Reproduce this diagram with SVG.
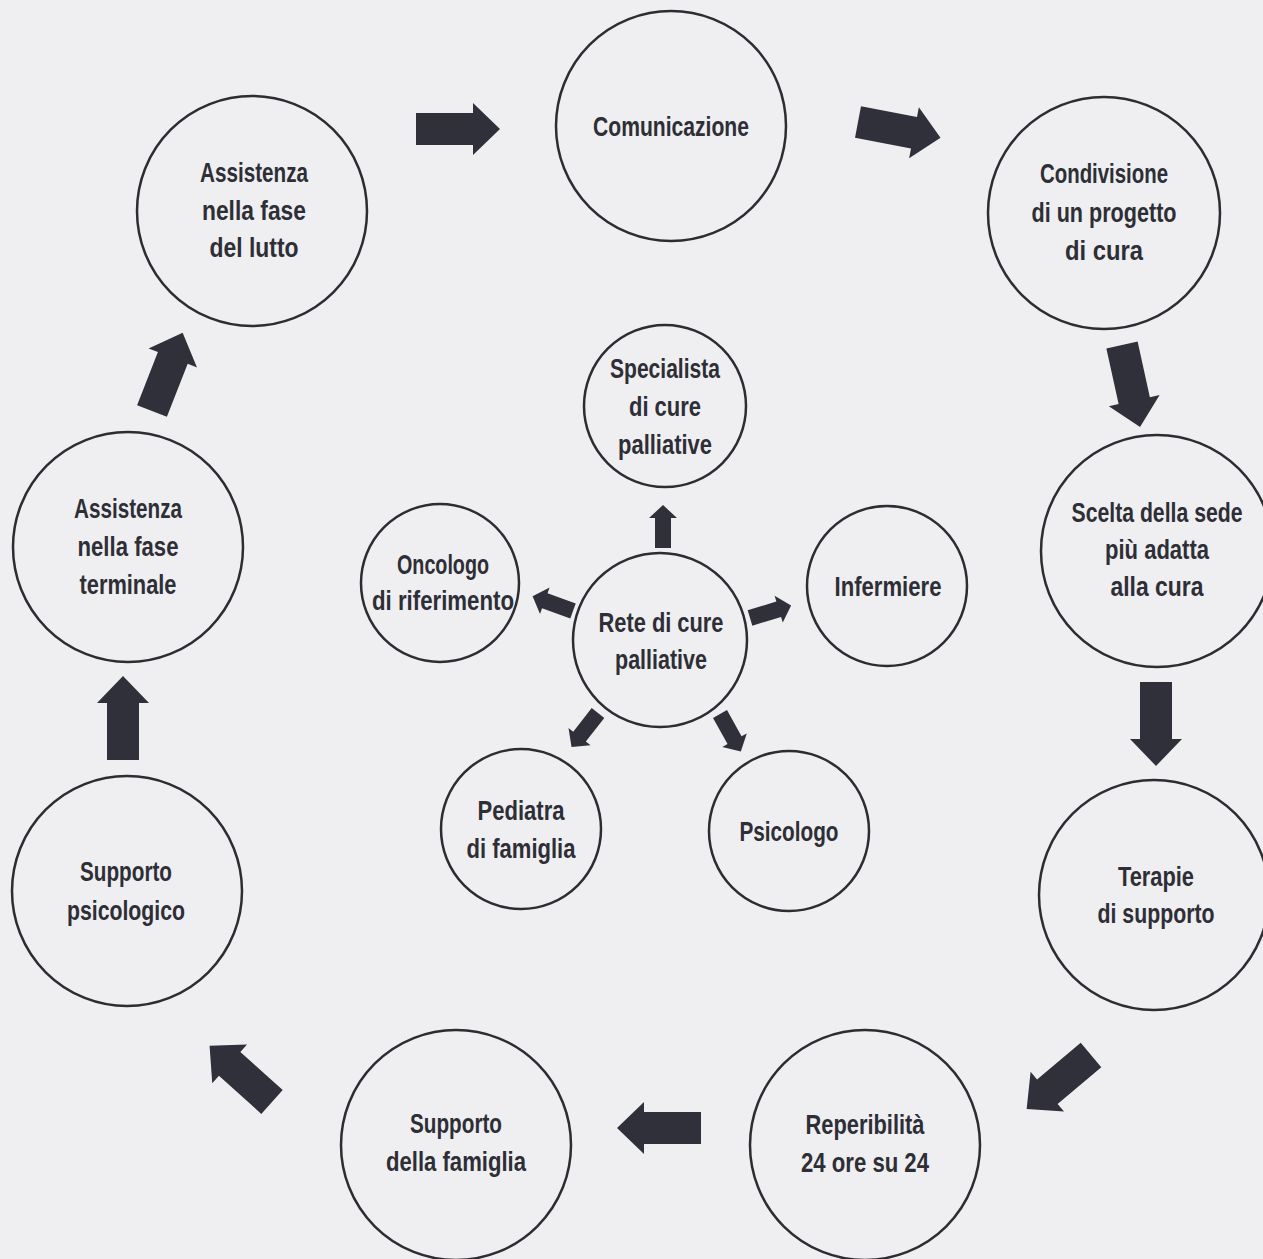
<svg xmlns="http://www.w3.org/2000/svg" xmlns:xlink="http://www.w3.org/1999/xlink" width="1263" height="1259" viewBox="0 0 1263 1259">
<style>
.bg{fill:#efeff1}
.node circle{fill:none;stroke:#2c2c32;stroke-width:2.5}
.node text{font-family:"Liberation Sans",Arial,sans-serif;font-weight:bold;font-size:28px;fill:#2e2e36;text-anchor:middle}
.arrow{fill:#30303b}
</style>
<defs>
<path id="big" d="M0,-16 L57,-16 L57,-26 L84,0 L57,26 L57,16 L0,16 Z"/>
<path id="small" d="M0,-8 L30,-8 L30,-14 L43,0 L30,14 L30,8 L0,8 Z"/>
</defs>
<rect class="bg" x="0" y="0" width="1263" height="1259"/>

<g id="connectors">
<use class="arrow" xlink:href="#big" transform="translate(416,129) rotate(0)"/>
<use class="arrow" xlink:href="#big" transform="translate(858,122) rotate(10.8)"/>
<use class="arrow" xlink:href="#big" transform="translate(1122,345) rotate(77.6)"/>
<use class="arrow" xlink:href="#big" transform="translate(1156,682) rotate(90)"/>
<use class="arrow" xlink:href="#big" transform="translate(1091,1055) rotate(140)"/>
<use class="arrow" xlink:href="#big" transform="translate(701,1128) rotate(180)"/>
<use class="arrow" xlink:href="#big" transform="translate(272,1102) rotate(222)"/>
<use class="arrow" xlink:href="#big" transform="translate(123,760) rotate(-90)"/>
<use class="arrow" xlink:href="#big" transform="translate(152,411) rotate(-68.6)"/>
<use class="arrow" xlink:href="#small" transform="translate(663,548) rotate(-90)"/>
<use class="arrow" xlink:href="#small" transform="translate(573,611) rotate(-160)"/>
<use class="arrow" xlink:href="#small" transform="translate(750,618) rotate(-17)"/>
<use class="arrow" xlink:href="#small" transform="translate(598,713) rotate(128)"/>
<use class="arrow" xlink:href="#small" transform="translate(720,714) rotate(61)"/>
</g>

<g id="comunicazione" class="node"><circle cx="671" cy="126" r="115"/><text x="671" y="136" textLength="156" lengthAdjust="spacingAndGlyphs">Comunicazione</text></g>
<g id="condivisione" class="node"><circle cx="1104" cy="213" r="116"/><text x="1104" y="183" textLength="128" lengthAdjust="spacingAndGlyphs">Condivisione</text><text x="1104" y="222" textLength="145" lengthAdjust="spacingAndGlyphs">di un progetto</text><text x="1104" y="260" textLength="78" lengthAdjust="spacingAndGlyphs">di cura</text></g>
<g id="scelta" class="node"><circle cx="1157" cy="551" r="116"/><text transform="translate(1157,522) scale(0.758,1)" x="0" y="0">Scelta della sede</text><text x="1157" y="559" textLength="104" lengthAdjust="spacingAndGlyphs">più adatta</text><text x="1157" y="596" textLength="93" lengthAdjust="spacingAndGlyphs">alla cura</text></g>
<g id="terapie" class="node"><circle cx="1154" cy="895" r="115"/><text x="1156" y="886" textLength="76" lengthAdjust="spacingAndGlyphs">Terapie</text><text x="1156" y="923" textLength="117" lengthAdjust="spacingAndGlyphs">di supporto</text></g>
<g id="reperibilita" class="node"><circle cx="865" cy="1145" r="115"/><text x="865" y="1134" textLength="119" lengthAdjust="spacingAndGlyphs">Reperibilità</text><text x="865" y="1172" textLength="128" lengthAdjust="spacingAndGlyphs">24 ore su 24</text></g>
<g id="supporto-famiglia" class="node"><circle cx="456" cy="1145" r="115"/><text x="456" y="1133" textLength="92" lengthAdjust="spacingAndGlyphs">Supporto</text><text x="456" y="1171" textLength="140" lengthAdjust="spacingAndGlyphs">della famiglia</text></g>
<g id="supporto-psicologico" class="node"><circle cx="127" cy="891" r="115"/><text x="126" y="881" textLength="92" lengthAdjust="spacingAndGlyphs">Supporto</text><text x="126" y="920" textLength="118" lengthAdjust="spacingAndGlyphs">psicologico</text></g>
<g id="assistenza-terminale" class="node"><circle cx="128" cy="547" r="115"/><text x="128" y="518" textLength="108" lengthAdjust="spacingAndGlyphs">Assistenza</text><text x="128" y="556" textLength="101" lengthAdjust="spacingAndGlyphs">nella fase</text><text x="128" y="594" textLength="97" lengthAdjust="spacingAndGlyphs">terminale</text></g>
<g id="assistenza-lutto" class="node"><circle cx="252" cy="211" r="115"/><text x="254" y="182" textLength="108" lengthAdjust="spacingAndGlyphs">Assistenza</text><text x="254" y="220" textLength="104" lengthAdjust="spacingAndGlyphs">nella fase</text><text x="254" y="257" textLength="89" lengthAdjust="spacingAndGlyphs">del lutto</text></g>

<g id="rete" class="node"><circle cx="660" cy="640" r="87"/><text x="661" y="632" textLength="125" lengthAdjust="spacingAndGlyphs">Rete di cure</text><text x="661" y="669" textLength="92" lengthAdjust="spacingAndGlyphs">palliative</text></g>
<g id="specialista" class="node"><circle cx="665" cy="406" r="81"/><text x="665" y="378" textLength="110" lengthAdjust="spacingAndGlyphs">Specialista</text><text x="665" y="416" textLength="72" lengthAdjust="spacingAndGlyphs">di cure</text><text x="665" y="454" textLength="94" lengthAdjust="spacingAndGlyphs">palliative</text></g>
<g id="oncologo" class="node"><circle cx="440" cy="583" r="79"/><text x="443" y="574" textLength="92" lengthAdjust="spacingAndGlyphs">Oncologo</text><text x="443" y="610" textLength="142" lengthAdjust="spacingAndGlyphs">di riferimento</text></g>
<g id="infermiere" class="node"><circle cx="887" cy="586" r="80"/><text x="888" y="596" textLength="107" lengthAdjust="spacingAndGlyphs">Infermiere</text></g>
<g id="pediatra" class="node"><circle cx="521" cy="829" r="80"/><text x="521" y="820" textLength="87" lengthAdjust="spacingAndGlyphs">Pediatra</text><text x="521" y="858" textLength="109" lengthAdjust="spacingAndGlyphs">di famiglia</text></g>
<g id="psicologo" class="node"><circle cx="789" cy="831" r="80"/><text x="789" y="841" textLength="99" lengthAdjust="spacingAndGlyphs">Psicologo</text></g>
</svg>
